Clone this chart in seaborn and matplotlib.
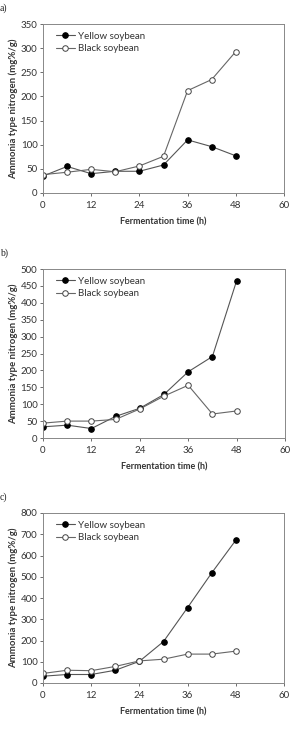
import matplotlib
matplotlib.use("Agg")
import matplotlib.pyplot as plt
import seaborn as sns
import pandas as pd

sns.set_style("white")
plt.rcParams['font.family'] = ['Lato', 'DejaVu Sans']

hours = [0, 6, 12, 18, 24, 30, 36, 42, 48]
series_names = ["Yellow soybean", "Black soybean"]
panel_labels = ["a)", "b)", "c)"]

yellow_a = [35, 55, 40, 45, 45, 58, 110, 96, 77]
black_a = [38, 43, 49, 44, 56, 76, 212, 235, 293]
yellow_b = [33, 38, 28, 64, 88, 129, 196, 241, 465]
black_b = [44, 50, 50, 55, 86, 124, 156, 71, 80]
yellow_c = [32, 40, 40, 60, 102, 195, 355, 518, 672]
black_c = [45, 60, 58, 78, 104, 112, 136, 136, 150]

ymax = [350, 500, 800]
ystep = [50, 50, 100]
xticks = [0, 12, 24, 36, 48, 60]

panels = [(yellow_a, black_a), (yellow_b, black_b), (yellow_c, black_c)]

fig = plt.figure(figsize=(2.93, 7.36), dpi=100)
W, H = 293, 736
boxes = [(43, 24, 284, 193), (43, 269, 285, 438), (43, 513, 284, 683)]
label_y = [3, 248, 492]

for i, ((yl, bl), (x0, y0, x1, y1)) in enumerate(zip(panels, boxes)):
    ax = fig.add_axes([x0 / W, 1 - y1 / H, (x1 - x0) / W, (y1 - y0) / H])
    df = pd.DataFrame({"h": hours * 2, "v": yl + bl,
                       "s": [series_names[0]] * 9 + [series_names[1]] * 9})
    sns.lineplot(data=df[df.s == series_names[0]], x="h", y="v", ax=ax,
                 color="#555555", lw=0.8, marker="o", markersize=4.0,
                 markerfacecolor="black", markeredgecolor="black",
                 label=series_names[0])
    sns.lineplot(data=df[df.s == series_names[1]], x="h", y="v", ax=ax,
                 color="#666666", lw=0.8, marker="o", markersize=4.0,
                 markerfacecolor="white", markeredgecolor="#444444",
                 markeredgewidth=0.7, label=series_names[1])
    ax.set_xlim(0, 60)
    ax.set_ylim(0, ymax[i])
    ax.set_xticks(xticks)
    ax.set_yticks(list(range(0, ymax[i] + 1, ystep[i])))
    ax.tick_params(axis="both", labelsize=7, colors="#333333",
                   length=2, width=0.5, direction="out", bottom=True, left=True, pad=2)
    ax.tick_params(axis="x", pad=4)
    for sp in ax.spines.values():
        sp.set_color("#888888")
        sp.set_linewidth(0.7)
    ax.set_xlabel("Fermentation time (h)", fontsize=6.5, fontweight="bold",
                  color="#333333", labelpad=5)
    ax.set_ylabel("Ammonia type nitrogen (mg%/g)", fontsize=6.9, fontweight="bold",
                  color="#333333", labelpad=2)
    leg = ax.legend(loc="upper left", frameon=False, fontsize=7,
                    handlelength=2.0, handletextpad=0.3, labelspacing=0.35,
                    borderaxespad=0.4, bbox_to_anchor=(0.02, 1.0))
    for t in leg.get_texts():
        t.set_color("#333333")
    fig.text(0.0, 1 - (label_y[i] + 8) / H, panel_labels[i], fontsize=7,
             family="Liberation Serif", color="#222222")

fig.savefig("out.png", dpi=100)
